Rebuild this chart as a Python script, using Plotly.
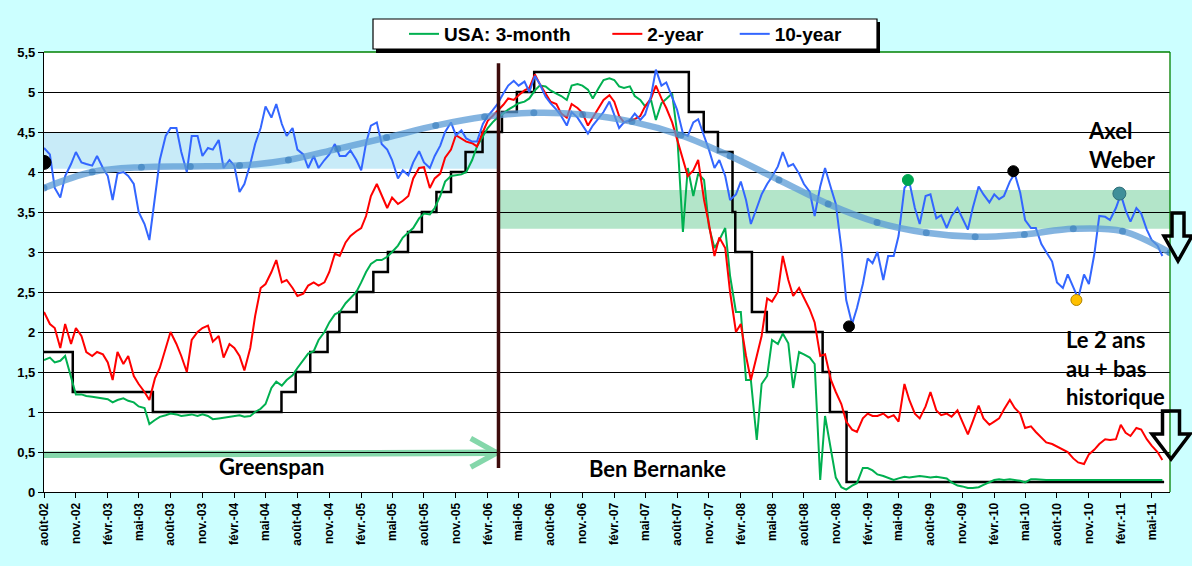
import pandas as pd
import plotly.graph_objects as go

# semi-monthly observation dates (15th / 1st), mid-Aug 2002 -> mid-Jun 2011
dates = pd.date_range("2002-08-15", "2011-06-15", freq="SMS").strftime("%Y-%m-%d").tolist()

three_month = [
    1.65, 1.68, 1.62, 1.64, 1.70, 1.45, 1.22, 1.22, 1.20, 1.19,
    1.18, 1.17, 1.16, 1.12, 1.15, 1.17, 1.14, 1.12, 1.07, 1.05,
    0.85, 0.90, 0.94, 0.96, 0.98, 0.97, 0.95, 0.96, 0.97, 0.95,
    0.97, 0.95, 0.91, 0.92, 0.93, 0.94, 0.95, 0.96, 0.94, 0.95,
    1.00, 1.04, 1.10, 1.30, 1.38, 1.33, 1.40, 1.46, 1.55, 1.65,
    1.73, 1.76, 1.90, 2.00, 2.12, 2.22, 2.25,
    2.36, 2.42, 2.50, 2.62, 2.75, 2.85, 2.90, 2.90, 2.94, 3.00,
    3.08, 3.18, 3.24, 3.30, 3.42, 3.48, 3.47, 3.55, 3.70, 3.88,
    3.95, 3.96, 3.97, 4.00, 4.15, 4.32, 4.45, 4.55, 4.62, 4.68,
    4.73, 4.78, 4.82, 4.86, 4.88, 4.92, 5.02, 5.08, 5.07, 5.02,
    4.98, 4.95, 4.90, 5.08, 5.10, 5.08, 5.03, 4.92, 5.05, 5.15,
    5.17, 5.15, 5.07, 5.05, 5.07,
    4.95, 4.90, 4.82, 4.90, 4.65, 4.86, 4.92, 4.98, 4.50, 3.25,
    4.05, 3.70, 3.98, 3.90, 3.32, 3.05, 3.15, 3.30, 2.70, 2.25,
    2.25, 1.40, 1.40, 0.65, 1.35, 1.45, 1.90, 1.85, 1.98, 1.86,
    1.30, 1.75, 1.72, 1.68, 1.60, 0.15, 0.95, 0.55, 0.18, 0.06,
    0.03, 0.08, 0.11, 0.30, 0.30, 0.27, 0.22, 0.20, 0.18, 0.15,
    0.17, 0.19, 0.18, 0.19, 0.20,
    0.19, 0.18, 0.19, 0.18, 0.17, 0.12, 0.08, 0.07, 0.05, 0.05,
    0.06, 0.09, 0.12, 0.15, 0.16, 0.15, 0.16, 0.15, 0.14, 0.12,
    0.16, 0.16, 0.15, 0.15, 0.15, 0.15, 0.15, 0.15, 0.15, 0.15,
    0.15, 0.15, 0.15, 0.15, 0.15, 0.15, 0.15, 0.15, 0.15, 0.15,
    0.15, 0.15, 0.15, 0.15, 0.15, 0.15,
]

two_year = [
    2.25, 2.10, 2.05, 1.80, 2.10, 1.85, 2.05, 1.95, 1.75, 1.70,
    1.75, 1.72, 1.62, 1.40, 1.75, 1.60, 1.70, 1.45, 1.35, 1.25,
    1.15, 1.42, 1.55, 1.80, 2.00, 1.85, 1.70, 1.50, 1.90, 2.00,
    2.05, 2.08, 1.88, 1.95, 1.68, 1.85, 1.80, 1.70, 1.52, 1.80,
    2.20, 2.55, 2.60, 2.75, 2.90, 2.62, 2.65, 2.55, 2.45, 2.48,
    2.58, 2.62, 2.58, 2.62, 2.75, 2.98, 2.95,
    3.12, 3.20, 3.26, 3.30, 3.45, 3.70, 3.85, 3.70, 3.55, 3.68,
    3.60, 3.64, 3.70, 3.92, 4.05, 4.06, 3.80, 3.92, 3.98, 4.18,
    4.28, 4.46, 4.42, 4.38, 4.36, 4.32, 4.50, 4.64, 4.70, 4.76,
    4.84, 4.92, 4.90, 4.96, 5.02, 5.05, 5.22, 5.10, 4.98, 4.88,
    4.85, 4.73, 4.68, 4.85, 4.80, 4.74, 4.58, 4.68, 4.80, 4.90,
    4.96, 4.88, 4.70, 4.62, 4.64,
    4.66, 4.70, 4.82, 4.92, 5.08, 4.92, 4.80, 4.62, 4.42, 4.18,
    3.95, 4.02, 4.15, 3.65, 3.35, 2.95, 3.18, 3.05, 2.50, 2.00,
    2.10, 1.70, 1.40, 1.70, 1.95, 2.42, 2.38, 2.50, 2.95, 2.65,
    2.45, 2.55, 2.42, 2.28, 2.12, 1.70, 1.72, 1.40, 1.25, 1.10,
    0.88, 0.78, 0.75, 0.92, 0.98, 0.95, 0.95, 0.98, 0.93, 0.96,
    0.88, 1.35, 1.15, 0.98, 0.92,
    1.07, 1.25, 1.02, 0.96, 0.98, 0.94, 1.02, 0.88, 0.72, 0.88,
    1.08, 0.92, 0.84, 0.88, 0.92, 1.03, 1.15, 1.05, 0.98, 0.80,
    0.82, 0.75, 0.68, 0.62, 0.60, 0.57, 0.53, 0.50, 0.42, 0.37,
    0.35, 0.47, 0.53, 0.60, 0.66, 0.65, 0.66, 0.84, 0.74, 0.70,
    0.80, 0.78, 0.66, 0.58, 0.50, 0.40,
]

ten_year = [
    4.30, 4.22, 3.80, 3.68, 3.95, 4.10, 4.25, 4.12, 4.10, 4.08,
    4.20, 4.05, 3.95, 3.65, 3.98, 4.00, 3.95, 3.85, 3.50, 3.35,
    3.15, 3.70, 4.15, 4.45, 4.55, 4.55, 4.25, 4.00, 4.45, 4.45,
    4.20, 4.30, 4.28, 4.40, 4.05, 4.15, 4.08, 3.75, 3.85, 4.10,
    4.35, 4.55, 4.82, 4.68, 4.85, 4.60, 4.45, 4.55, 4.28, 4.22,
    4.05, 4.20, 4.05, 4.15, 4.22, 4.35, 4.20,
    4.20, 4.27, 4.15, 4.02, 4.36, 4.58, 4.62, 4.35, 4.28, 4.15,
    3.92, 4.02, 3.96, 4.12, 4.26, 4.12, 4.05, 4.20, 4.33, 4.50,
    4.62, 4.46, 4.52, 4.42, 4.38, 4.38, 4.60, 4.70, 4.77, 4.85,
    4.98, 5.08, 5.14, 5.08, 5.13, 5.00, 5.20, 5.10, 4.94, 4.86,
    4.78, 4.70, 4.58, 4.75, 4.68, 4.58, 4.48, 4.58, 4.68, 4.75,
    4.88, 4.72, 4.55, 4.62, 4.65,
    4.73, 4.65, 4.72, 4.95, 5.28, 5.08, 5.12, 4.94, 4.78, 4.48,
    4.45, 4.62, 4.66, 4.45, 4.28, 4.05, 4.15, 3.95, 3.65, 3.72,
    3.88, 3.65, 3.35, 3.55, 3.72, 3.85, 3.94, 4.07, 4.25, 4.07,
    4.10, 3.98, 3.85, 3.75, 3.45, 3.82, 4.05, 3.80, 3.60, 3.05,
    2.40, 2.10, 2.30, 2.60, 2.92, 2.86, 3.00, 2.65, 2.95, 2.95,
    3.20, 3.80, 3.88, 3.55, 3.35,
    3.70, 3.72, 3.42, 3.46, 3.30, 3.45, 3.55, 3.42, 3.28, 3.55,
    3.82, 3.72, 3.62, 3.72, 3.66, 3.70, 3.88, 3.98, 3.74, 3.40,
    3.30, 3.30, 3.10, 3.00, 2.88, 2.62, 2.55, 2.72, 2.55, 2.42,
    2.72, 2.60, 2.98, 3.45, 3.44, 3.40, 3.55, 3.72, 3.52, 3.38,
    3.55, 3.48, 3.28, 3.15, 3.08, 2.95,
]

# Fed funds target (step)
fed_dates = [
    "2002-08-15", "2002-11-06", "2003-06-25", "2004-06-30", "2004-08-10",
    "2004-09-21", "2004-11-10", "2004-12-14", "2005-02-02", "2005-03-22",
    "2005-05-03", "2005-06-30", "2005-08-09", "2005-09-20", "2005-11-01",
    "2005-12-13", "2006-01-31", "2006-03-28", "2006-05-10", "2006-06-29",
    "2007-09-18", "2007-10-31", "2007-12-11", "2008-01-22", "2008-01-30",
    "2008-03-18", "2008-04-30", "2008-10-08", "2008-10-29", "2008-12-16",
    "2011-06-20",
]
fed_rate = [
    1.75, 1.25, 1.00, 1.25, 1.50, 1.75, 2.00, 2.25, 2.50, 2.75,
    3.00, 3.25, 3.50, 3.75, 4.00, 4.25, 4.50, 4.75, 5.00, 5.25,
    4.75, 4.50, 4.25, 3.50, 3.00, 2.25, 2.00, 1.50, 1.00, 0.125,
    0.125,
]

# polynomial trend of the 10-year
trend_dates = [
    "2002-08-15", "2003-01-01", "2003-05-23", "2003-10-11", "2004-03-01",
    "2004-07-20", "2004-12-09", "2005-04-29", "2005-09-18", "2006-02-06",
    "2006-06-28", "2006-11-16", "2007-04-07", "2007-08-26", "2008-01-15",
    "2008-06-04", "2008-10-24", "2009-03-14", "2009-08-03", "2009-12-22",
    "2010-05-13", "2010-10-01", "2011-02-20", "2011-07-07",
]
trend_vals = [
    3.80, 4.00, 4.06, 4.07, 4.08, 4.15, 4.29, 4.43, 4.58, 4.69,
    4.74, 4.72, 4.63, 4.46, 4.20, 3.90, 3.60, 3.37, 3.24, 3.19,
    3.22, 3.29, 3.26, 2.99,
]

# highlighted 10-year points
mark_dates = ["2002-08-15", "2008-12-23", "2009-06-11", "2010-04-11", "2010-10-10", "2011-02-11"]
mark_vals = [4.12, 2.07, 3.90, 4.01, 2.40, 3.73]
mark_colors = ["#000000", "#000000", "#00a550", "#000000", "#ffc000", "#3f8f99"]
mark_edges = ["#000000", "#000000", "#00a550", "#000000", "#b08400", "#2f6f79"]
mark_sizes = [14, 11, 11, 11, 11, 13]

tick_text = [
    "août-02", "nov.-02", "févr.-03", "mai-03", "août-03", "nov.-03",
    "févr.-04", "mai-04", "août-04", "nov.-04", "févr.-05", "mai-05",
    "août-05", "nov.-05", "févr.-06", "mai-06", "août-06", "nov.-06",
    "févr.-07", "mai-07", "août-07", "nov.-07", "févr.-08", "mai-08",
    "août-08", "nov.-08", "févr.-09", "mai-09", "août-09", "nov.-09",
    "févr.-10", "mai-10", "août-10", "nov.-10", "févr.-11", "mai-11",
]
tick_dates = pd.date_range("2002-08-15", periods=len(tick_text), freq=pd.DateOffset(months=3)).strftime("%Y-%m-%d").tolist()

x_start, x_end = "2002-08-15", "2011-07-07"
bernanke = "2006-03-18"
NB = "\u00a0"


# pixel -> paper helpers (plot area is 44..1170 x 52..492)
def px(x):
    return (x - 44) / 1126


def py(y):
    return (492 - y) / 440


fig = go.Figure()

fig.add_trace(go.Scatter(x=fed_dates, y=fed_rate, mode="lines", line=dict(color="black", width=2.5, shape="hv"),
                         showlegend=False, hoverinfo="skip"))
fig.add_trace(go.Scatter(x=dates, y=three_month, mode="lines", name="USA: 3-month" + NB * 6,
                         line=dict(color="#00b050", width=2)))
fig.add_trace(go.Scatter(x=dates, y=two_year, mode="lines", name="2-year" + NB * 5,
                         line=dict(color="#ff0000", width=2)))
fig.add_trace(go.Scatter(x=dates, y=ten_year, mode="lines", name="10-year",
                         line=dict(color="#3366ff", width=2)))
fig.add_trace(go.Scatter(x=trend_dates, y=trend_vals, mode="lines+markers",
                         line=dict(color="rgba(91,155,213,0.75)", width=6.5, shape="spline"),
                         marker=dict(size=7, color="rgba(46,117,182,0.55)"),
                         showlegend=False, hoverinfo="skip"))
fig.add_trace(go.Scatter(x=mark_dates, y=mark_vals, mode="markers",
                         marker=dict(size=mark_sizes, color=mark_colors, opacity=1,
                                     line=dict(color=mark_edges, width=1)),
                         showlegend=False, hoverinfo="skip"))

shapes = [
    # bands
    dict(type="rect", xref="x", yref="y", x0=x_start, x1=bernanke, y0=4.04, y1=4.5,
         fillcolor="#c8ebf8", line=dict(width=0), layer="below"),
    dict(type="rect", xref="x", yref="y", x0=bernanke, x1=x_end, y0=3.29, y1=3.775,
         fillcolor="#b3e5c9", line=dict(width=0), layer="below"),
    # Greenspan arrow
    dict(type="line", xref="x", yref="y", x0=x_start, y0=0.465, x1="2006-03-13", y1=0.49,
         line=dict(color="#84d7aa", width=6.5), layer="below"),
    dict(type="line", xref="x", yref="y", x0="2005-12-28", y0=0.67, x1="2006-03-13", y1=0.49,
         line=dict(color="#84d7aa", width=5.5), layer="below"),
    dict(type="line", xref="x", yref="y", x0="2005-12-28", y0=0.31, x1="2006-03-13", y1=0.49,
         line=dict(color="#84d7aa", width=5.5), layer="below"),
    # Bernanke vertical
    dict(type="line", xref="x", yref="y", x0=bernanke, x1=bernanke, y0=0.3, y1=5.36,
         line=dict(color="#3d0c0c", width=3.5)),
    # green plot border top / right
    dict(type="line", xref="paper", yref="paper", x0=0, x1=1, y0=1, y1=1, line=dict(color="#008000", width=1.3)),
    dict(type="line", xref="paper", yref="paper", x0=1, x1=1, y0=0, y1=1, line=dict(color="#008000", width=1.3)),
    # legend box with shadow
    dict(type="rect", xref="paper", yref="paper", x0=px(376), x1=px(880), y0=py(53), y1=py(22),
         fillcolor="black", line=dict(width=0)),
    dict(type="rect", xref="paper", yref="paper", x0=px(373), x1=px(877), y0=py(49), y1=py(19),
         fillcolor="white", line=dict(color="black", width=1.2)),
]


def down_arrow(cx, top, base, tip, stem_w, head_w):
    pts = [(cx - stem_w / 2, top), (cx + stem_w / 2, top), (cx + stem_w / 2, base), (cx + head_w / 2, base),
           (cx, tip), (cx - head_w / 2, base), (cx - stem_w / 2, base)]
    path = "M " + " L ".join(f"{px(a):.5f},{py(b):.5f}" for a, b in pts) + " Z"
    return dict(type="path", xref="paper", yref="paper", path=path, line=dict(color="black", width=3.5),
                fillcolor="rgba(0,0,0,0)")


shapes.append(down_arrow(1178, 213, 236, 261, 12, 28))
shapes.append(down_arrow(1171, 411, 434, 459, 17, 38))

txt_font = dict(family="Lato, Open Sans, sans-serif", size=22, color="black", weight="bold")
annotations = [
    dict(x=px(271), y=py(466), text="Greenspan", xanchor="center"),
    dict(x=px(657), y=py(468), text="Ben Bernanke", xanchor="center"),
    dict(x=px(1086), y=py(145), text="Axel<br>Weber", xanchor="left", align="left"),
    dict(x=px(1064), y=py(368), text="Le 2 ans<br>au + bas<br>historique", xanchor="left", align="left"),
]
for a in annotations:
    a.update(xref="paper", yref="paper", yanchor="middle", showarrow=False, font=txt_font)

tick_font = dict(family="Liberation Sans, Arial, sans-serif", size=12, color="black", weight="bold")

fig.update_layout(
    width=1192, height=566,
    margin=dict(l=44, r=22, t=52, b=74),
    paper_bgcolor="#ccffff",
    plot_bgcolor="white",
    separators=", ",
    shapes=shapes,
    annotations=annotations,
    showlegend=True,
    legend=dict(orientation="h", x=px(404), y=py(34), xanchor="left", yanchor="middle",
                bgcolor="rgba(0,0,0,0)", borderwidth=0,
                font=dict(family="Liberation Sans, Arial, sans-serif", size=19, color="black", weight="bold")),
    xaxis=dict(type="date", range=[x_start, x_end], tickvals=tick_dates, ticktext=tick_text, tickangle=-90,
               showgrid=False, showline=True, linecolor="black", linewidth=1.3, ticks="outside", ticklen=5,
               tickcolor="black", tickfont=tick_font, zeroline=False),
    yaxis=dict(range=[0, 5.5], dtick=0.5, tick0=0, showgrid=True, gridcolor="black", gridwidth=1,
               showline=True, linecolor="black", linewidth=1.3, ticks="outside", ticklen=5, tickcolor="black",
               tickfont=dict(family="Liberation Sans, Arial, sans-serif", size=13, color="black", weight="bold"),
               zeroline=False),
)

fig.write_html("out.html", config={"displayModeBar": False}, post_script="document.body.style.margin='0';")
